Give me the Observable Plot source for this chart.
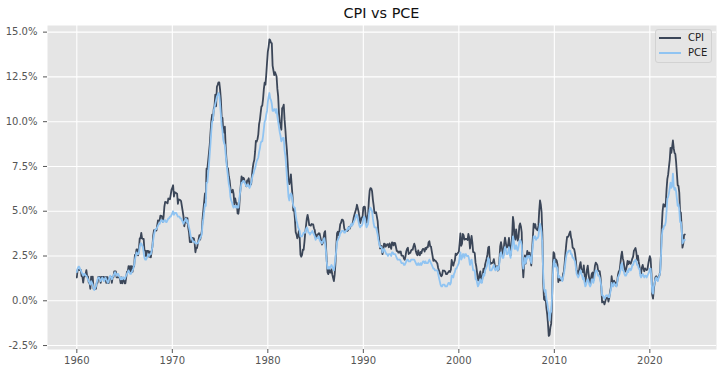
<!DOCTYPE html>
<html>
<head>
<meta charset="utf-8">
<script src="https://cdn.jsdelivr.net/npm/d3@7"></script>
<script src="https://cdn.jsdelivr.net/npm/@observablehq/plot@0.6"></script>
<style>
  html, body { margin: 0; padding: 0; background: #ffffff; }
  #wrap { position: relative; width: 722px; height: 374px; font-family: "DejaVu Sans", sans-serif; }
  #title { position: absolute; left: 47px; width: 669px; top: 3px; text-align: center; font-size: 14.4px; color: #111; line-height: 20px; }
  #legend { position: absolute; left: 655px; top: 29px; width: 55px; height: 32px; border: 1px solid #d2d2d2; border-radius: 3px; background: rgba(229,229,229,0.8); font-size: 10px; color: #222; }
  .li { position: absolute; left: 3px; height: 14px; line-height: 14px; }
  .sw { position: absolute; left: 0; top: 6px; width: 22px; height: 0; border-top: 2px solid; }
  .lt { position: absolute; left: 29px; top: 0; white-space: nowrap; }
</style>
</head>
<body>
<div id="wrap">
  <div id="chart"></div>
  <div id="title">CPI vs PCE</div>
  <div id="legend"></div>
</div>
<script>
const seriesNames = ["CPI", "PCE"];
const seriesColors = ["#3b4658", "#90c4f2"];
const startYear = 1960;
const xTicks = [1960, 1970, 1980, 1990, 2000, 2010, 2020];
const yTicks = [-2.5, 0, 2.5, 5, 7.5, 10, 12.5, 15];

// monthly YoY %, Jan 1960 .. Sep 2023
const cpi = [
1.3,1.73,1.73,1.72,1.72,1.72,1.37,1.37,1.02,1.36,1.36,1.48,
1.71,1.36,1.36,1.01,1.01,0.67,1.35,1.01,1.35,0.67,0.67,0.67,
0.67,1.00,1.00,1.34,1.34,1.34,1.00,1.34,1.33,1.33,1.33,1.22,
1.33,1.00,1.33,0.99,0.99,1.32,1.32,1.32,1.00,1.32,1.32,1.64,
1.64,1.64,1.31,1.31,1.31,1.31,1.30,0.98,1.30,0.97,1.29,1.19,
0.97,0.97,1.29,1.62,1.62,1.94,1.61,1.94,1.61,1.93,1.61,1.92,
1.92,2.56,2.56,2.87,2.87,2.53,2.84,3.48,3.49,3.79,3.48,3.46,
3.46,2.81,2.80,2.48,2.78,2.79,2.77,2.45,2.75,2.43,2.74,3.04,
3.65,3.95,3.94,3.93,3.92,4.20,4.49,4.48,4.46,4.75,4.74,4.72,
4.40,4.68,5.25,5.52,5.51,5.48,5.44,5.71,5.70,5.67,5.93,6.20,
6.30,6.45,5.82,6.06,6.04,6.01,5.98,5.41,5.66,5.64,5.62,5.57,
5.29,5.00,4.71,4.16,4.40,4.64,4.36,4.62,4.08,3.80,3.28,3.27,
3.27,3.51,3.50,3.49,3.23,2.71,2.95,2.94,3.19,3.42,3.67,3.41,
3.65,3.87,4.59,5.06,5.53,5.99,5.73,7.38,7.36,7.80,8.25,8.71,
9.39,10.02,10.39,10.09,10.71,10.86,11.51,10.86,11.95,12.06,12.20,12.20,
11.80,11.23,10.25,10.21,9.47,9.39,9.72,8.60,7.91,7.44,7.38,6.94,
6.72,6.29,6.07,6.05,6.20,5.97,5.35,5.71,5.49,5.46,4.88,4.86,
5.22,5.91,6.44,6.95,6.73,6.87,6.83,6.62,6.60,6.39,6.72,6.70,
6.84,6.43,6.55,6.50,6.96,7.41,7.70,7.86,8.31,8.93,8.89,9.02,
9.28,9.86,10.09,10.49,10.85,10.89,11.26,11.82,12.18,12.07,12.61,13.29,
13.91,14.18,14.60,14.55,14.41,14.38,13.13,12.87,12.60,12.77,12.65,12.52,
11.83,11.41,10.49,10.00,9.78,9.55,10.76,10.80,10.95,10.14,9.59,8.92,
8.39,7.62,6.78,6.51,6.68,7.06,6.44,5.85,5.04,5.14,4.59,3.83,
3.71,3.49,3.60,3.90,3.55,2.58,2.46,2.56,2.86,2.85,3.27,3.79,
4.19,4.60,4.80,4.56,4.23,4.22,4.20,4.29,4.27,4.26,4.05,3.95,
3.53,3.52,3.70,3.69,3.77,3.76,3.55,3.35,3.14,3.23,3.51,3.80,
3.89,3.11,2.26,1.59,1.49,1.77,1.58,1.57,1.75,1.47,1.28,1.10,
1.46,2.10,3.03,3.78,3.86,3.65,3.93,4.28,4.36,4.53,4.53,4.43,
4.05,3.94,3.93,3.90,3.89,3.96,4.13,4.02,4.17,4.25,4.25,4.42,
4.67,4.83,4.98,5.12,5.36,5.17,4.98,4.71,4.34,4.49,4.66,4.65,
5.20,5.26,5.23,4.71,4.36,4.67,4.82,5.62,6.16,6.29,6.27,6.11,
5.65,5.31,4.90,4.89,4.95,4.70,4.45,3.80,3.39,2.92,2.99,3.06,
2.60,2.82,3.19,3.18,3.02,3.09,3.16,3.15,2.99,3.20,3.05,2.90,
3.26,3.25,3.09,3.23,3.22,3.00,2.78,2.77,2.69,2.75,2.68,2.75,
2.52,2.52,2.51,2.36,2.29,2.49,2.77,2.90,2.96,2.61,2.67,2.67,
2.80,2.86,2.85,3.05,3.19,3.04,2.76,2.62,2.54,2.81,2.61,2.54,
2.73,2.65,2.84,2.90,2.89,2.75,2.95,2.88,3.00,2.99,3.26,3.32,
3.04,3.03,2.76,2.50,2.23,2.30,2.23,2.23,2.15,2.08,1.83,1.70,
1.57,1.44,1.37,1.44,1.69,1.68,1.68,1.62,1.49,1.49,1.55,1.61,
1.67,1.61,1.73,2.28,2.09,1.96,2.14,2.26,2.63,2.56,2.62,2.68,
2.74,3.22,3.76,3.07,3.19,3.73,3.66,3.41,3.45,3.45,3.45,3.39,
3.73,3.53,2.92,3.27,3.62,3.25,2.72,2.72,2.65,2.13,1.90,1.55,
1.14,1.14,1.48,1.64,1.18,1.07,1.46,1.80,1.51,2.03,2.20,2.38,
2.60,2.98,3.02,2.22,2.06,2.11,2.11,2.16,2.32,2.04,1.77,1.88,
1.93,1.69,1.74,2.29,3.05,3.27,2.99,2.65,2.54,3.19,3.52,3.26,
2.97,3.01,3.15,3.51,2.80,2.53,3.17,3.64,4.69,4.35,3.46,3.42,
3.99,3.60,3.36,3.55,4.17,4.32,4.15,3.82,2.06,1.31,1.97,2.54,
2.08,2.42,2.78,2.57,2.69,2.69,2.36,1.97,2.76,3.54,4.31,4.08,
4.28,4.03,3.98,3.94,4.18,5.02,5.60,5.37,4.94,3.66,1.07,0.09,
0.03,0.24,-0.38,-0.74,-1.28,-1.96,-1.90,-1.48,-1.29,-0.18,1.84,2.72,
2.63,2.14,2.31,2.24,2.02,1.05,1.24,1.15,1.14,1.17,1.14,1.50,
1.63,2.11,2.68,3.16,3.57,3.56,3.63,3.77,3.87,3.53,3.39,2.96,
2.93,2.87,2.65,2.30,1.70,1.66,1.41,1.69,1.99,2.16,1.76,1.74,
1.59,1.98,1.47,1.06,1.36,1.75,1.96,1.52,1.18,0.96,1.24,1.50,
1.58,1.13,1.51,1.95,2.13,2.07,1.99,1.70,1.66,1.66,1.32,0.76,
-0.09,-0.03,-0.07,-0.20,-0.04,0.12,0.17,0.20,-0.04,0.17,0.50,0.73,
1.37,1.02,0.85,1.13,1.02,1.01,0.83,1.06,1.46,1.64,1.69,2.07,
2.50,2.74,2.38,2.20,1.87,1.63,1.73,1.94,2.23,2.04,2.20,2.11,
2.07,2.21,2.36,2.46,2.80,2.87,2.95,2.70,2.28,2.52,2.18,1.91,
1.55,1.52,1.86,2.00,1.79,1.65,1.81,1.75,1.71,1.76,2.05,2.29,
2.49,2.33,1.54,0.33,0.12,0.65,0.99,1.31,1.37,1.18,1.17,1.36,
1.40,1.68,2.62,4.16,4.99,5.39,5.37,5.25,5.39,6.22,6.81,7.04,
7.48,7.87,8.54,8.26,8.58,8.95,8.52,8.26,8.20,7.75,7.11,6.45,
6.41,6.04,4.98,4.93,4.05,2.97,3.18,3.67,3.70
];

const pce = [
1.6,1.8,1.9,1.9,1.8,1.7,1.6,1.5,1.4,1.5,1.5,1.4,
1.4,1.3,1.2,1.1,1.0,0.9,1.1,1.0,0.9,0.7,0.6,0.7,
0.8,1.0,1.2,1.3,1.3,1.2,1.1,1.2,1.3,1.2,1.1,1.2,
1.3,1.2,1.1,1.0,1.1,1.3,1.4,1.3,1.2,1.3,1.4,1.5,
1.6,1.5,1.4,1.5,1.5,1.4,1.3,1.2,1.3,1.2,1.3,1.3,
1.2,1.3,1.4,1.5,1.6,1.7,1.6,1.5,1.5,1.6,1.7,1.8,
2.0,2.3,2.5,2.7,2.6,2.6,2.7,3.0,3.2,3.2,3.1,3.0,
2.7,2.4,2.3,2.3,2.4,2.5,2.6,2.5,2.6,2.6,2.8,3.0,
3.4,3.7,3.9,4.0,4.0,4.1,4.2,4.3,4.3,4.4,4.5,4.5,
4.4,4.4,4.5,4.5,4.4,4.4,4.5,4.6,4.6,4.7,4.7,4.8,
4.9,5.0,4.8,4.9,4.9,4.9,4.8,4.7,4.7,4.7,4.6,4.6,
4.5,4.4,4.3,4.4,4.5,4.6,4.4,4.5,4.3,4.1,3.9,3.6,
3.5,3.4,3.3,3.3,3.3,3.2,3.2,3.2,3.2,3.3,3.4,3.5,
3.6,3.7,4.3,4.6,5.0,5.4,5.3,6.6,6.6,7.1,7.6,8.2,
8.8,9.5,10.0,10.1,10.6,10.8,11.0,11.2,11.4,11.5,11.6,11.5,
11.0,10.4,9.8,9.5,9.0,8.8,8.7,8.2,7.7,7.3,6.9,6.5,
6.3,5.8,5.6,5.5,5.3,5.2,5.3,5.3,5.2,5.3,5.2,5.2,
5.6,6.0,6.3,6.6,6.6,6.7,6.7,6.6,6.5,6.4,6.4,6.5,
6.4,6.3,6.4,6.6,6.8,7.0,7.1,7.3,7.4,7.6,7.8,7.9,
8.0,8.3,8.5,8.8,8.9,8.9,9.2,9.6,10.0,10.1,10.4,10.6,
11.1,11.4,11.6,11.3,11.2,11.0,10.6,10.6,10.7,10.7,10.5,10.7,
10.3,10.0,9.7,9.4,9.2,8.9,9.0,9.1,9.1,8.4,8.1,7.6,
6.9,6.4,5.8,5.6,5.9,6.0,5.9,5.6,5.3,5.2,5.2,4.8,
4.5,4.3,4.1,4.0,3.9,3.6,3.6,3.6,3.7,3.8,3.8,3.8,
4.0,4.1,4.0,3.8,3.8,3.7,3.8,3.8,3.9,3.8,3.7,3.6,
3.4,3.5,3.5,3.5,3.6,3.4,3.3,3.3,3.2,3.3,3.4,3.5,
3.2,2.8,2.2,1.8,1.8,1.9,1.8,1.9,2.0,1.9,1.8,1.7,
2.0,2.4,2.8,3.3,3.4,3.5,3.6,3.8,3.8,3.9,3.9,3.9,
3.8,3.8,3.9,3.9,4.0,4.1,4.0,4.1,4.2,4.3,4.2,4.3,
4.4,4.5,4.6,4.8,4.8,4.6,4.4,4.2,4.1,4.2,4.2,4.3,
4.6,4.7,4.6,4.3,4.1,4.2,4.3,4.8,5.1,5.2,5.1,5.0,
4.6,4.3,4.1,4.1,4.1,3.9,3.7,3.4,3.2,3.0,3.0,3.0,
2.7,2.8,2.9,2.8,2.7,2.6,2.6,2.5,2.6,2.6,2.6,2.5,
2.7,2.7,2.6,2.6,2.6,2.5,2.4,2.3,2.3,2.3,2.3,2.2,
2.1,2.1,2.1,2.0,2.0,2.1,2.2,2.3,2.3,2.2,2.2,2.2,
2.3,2.3,2.3,2.3,2.3,2.2,2.1,2.0,2.0,2.1,2.0,2.0,
2.1,2.0,2.1,2.2,2.2,2.1,2.2,2.1,2.1,2.1,2.2,2.3,
2.2,2.1,2.0,1.9,1.8,1.8,1.7,1.7,1.7,1.7,1.5,1.3,
1.1,0.9,0.8,0.8,0.9,0.9,0.9,0.8,0.8,0.8,0.9,1.0,
1.0,0.9,1.0,1.4,1.4,1.3,1.5,1.6,1.8,1.8,1.9,2.0,
2.1,2.5,2.7,2.3,2.4,2.6,2.6,2.4,2.6,2.6,2.5,2.5,
2.5,2.3,2.0,2.2,2.3,2.0,1.7,1.7,1.7,1.2,1.2,1.0,
0.8,0.9,1.1,1.2,1.0,1.0,1.3,1.5,1.4,1.7,1.8,1.9,
2.1,2.4,2.3,1.7,1.7,1.7,1.8,1.9,2.0,1.8,1.7,1.8,
1.9,1.7,1.8,2.1,2.6,2.7,2.5,2.4,2.4,2.8,3.0,2.9,
2.6,2.6,2.7,3.0,2.6,2.4,2.8,3.1,3.6,3.4,2.9,2.9,
3.1,2.9,2.8,3.0,3.3,3.4,3.3,3.1,2.2,1.8,2.1,2.4,
2.1,2.3,2.5,2.4,2.5,2.5,2.3,2.1,2.6,3.1,3.6,3.5,
3.6,3.4,3.5,3.5,3.6,4.0,4.3,4.1,3.8,3.1,1.5,0.7,
0.5,0.6,0.1,-0.1,-0.4,-0.6,-1.1,-0.7,-0.6,0.1,1.3,2.1,
2.3,1.9,2.0,1.9,1.8,1.3,1.4,1.3,1.3,1.2,1.1,1.3,
1.5,1.8,2.2,2.5,2.7,2.7,2.8,2.8,2.8,2.6,2.6,2.4,
2.4,2.3,2.2,1.9,1.5,1.4,1.3,1.4,1.6,1.7,1.5,1.4,
1.2,1.3,1.0,0.8,0.9,1.1,1.2,1.1,0.9,0.8,0.9,1.2,
1.2,1.0,1.2,1.5,1.7,1.7,1.6,1.4,1.4,1.3,1.1,0.8,
0.3,0.3,0.2,0.1,0.2,0.3,0.3,0.3,0.2,0.2,0.4,0.6,
1.0,0.8,0.8,1.0,0.9,0.9,0.8,1.0,1.3,1.4,1.5,1.7,
2.0,2.1,1.7,1.7,1.5,1.4,1.4,1.5,1.7,1.6,1.8,1.8,
1.7,1.8,2.0,2.0,2.2,2.2,2.3,2.2,2.0,2.0,1.8,1.8,
1.4,1.3,1.4,1.5,1.4,1.3,1.4,1.4,1.3,1.4,1.5,1.6,
1.8,1.8,1.3,0.5,0.4,0.8,1.0,1.2,1.3,1.2,1.1,1.3,
1.4,1.6,2.5,3.6,4.0,4.0,4.2,4.2,4.4,5.0,5.7,5.8,
6.0,6.3,6.6,6.3,6.4,7.1,6.4,6.2,6.3,6.1,5.7,5.3,
5.4,5.1,4.4,4.4,4.0,3.2,3.3,3.4,3.4
];

const rows = [];
cpi.forEach((v, i) => rows.push({date: startYear + i / 12, value: v, series: "CPI"}));
pce.forEach((v, i) => rows.push({date: startYear + i / 12, value: v, series: "PCE"}));

const chart = Plot.plot({
  width: 722,
  height: 374,
  marginTop: 25,
  marginBottom: 25,
  marginLeft: 47,
  marginRight: 6,
  style: {fontFamily: "DejaVu Sans, sans-serif", fontSize: "10px", color: "#555555", background: "transparent"},
  x: {domain: [1956.93, 2026.98], label: null},
  y: {domain: [-2.72, 15.37], label: null},
  color: {domain: seriesNames, range: seriesColors},
  marks: [
    Plot.frame({fill: "#E5E5E5", stroke: null}),
    Plot.gridX(xTicks, {stroke: "white", strokeOpacity: 1, strokeWidth: 1.1}),
    Plot.gridY(yTicks, {stroke: "white", strokeOpacity: 1, strokeWidth: 1.1}),
    Plot.axisX(xTicks, {tickFormat: d => String(d), tickSize: 4, tickPadding: 3.5, label: null}),
    Plot.axisY(yTicks, {tickFormat: d => d.toFixed(1) + "%", tickSize: 4, tickPadding: 6, label: null}),
    Plot.line(rows.filter(r => r.series === "CPI"), {x: "date", y: "value", stroke: "series", strokeWidth: 1.8}),
    Plot.line(rows.filter(r => r.series === "PCE"), {x: "date", y: "value", stroke: "series", strokeWidth: 1.8})
  ]
});
document.getElementById("chart").appendChild(chart);

const legend = document.getElementById("legend");
seriesNames.forEach((name, i) => {
  const item = document.createElement("div");
  item.className = "li";
  item.style.top = (1 + i * 15) + "px";
  item.innerHTML = `<span class="sw" style="border-color:${seriesColors[i]}"></span><span class="lt">${name}</span>`;
  legend.appendChild(item);
});
</script>
</body>
</html>
